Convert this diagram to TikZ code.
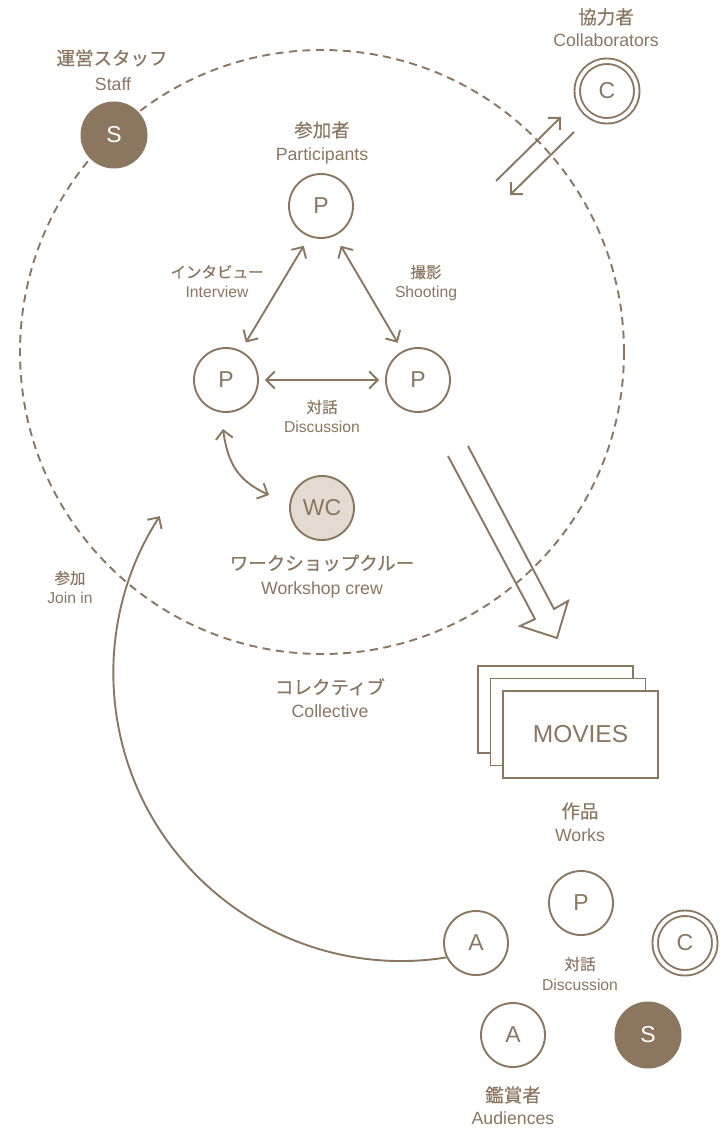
\documentclass[tikz,border=0pt]{standalone}
\usepackage{fontspec}
\setmainfont{Liberation Sans}
\newfontfamily\jp[FakeBold=0.5]{Noto Sans CJK JP}
\usetikzlibrary{arrows.meta,calc}
\definecolor{brn}{RGB}{139,118,96}
\definecolor{wcfill}{RGB}{227,219,210}
\begin{document}
\begin{tikzpicture}[x=1pt,y=-1pt,
  >={Straight Barb[length=8.5pt,width=17pt]},
  line/.style={draw=brn,line width=1.9pt},
  pc/.style={circle,draw=brn,line width=1.9pt,minimum size=64pt,inner sep=0pt,fill=white,text=brn,font=\fontsize{23}{23}\selectfont},
  sc/.style={circle,fill=brn,minimum size=67pt,inner sep=0pt,text=white,font=\fontsize{23}{23}\selectfont},
  cc/.style={circle,draw=brn,line width=1.9pt,double=white,double distance=3.6pt,minimum size=59.5pt,inner sep=0pt,text=brn,font=\fontsize{23}{23}\selectfont},
  jpL/.style={anchor=base,yshift=-7pt,text=brn,inner sep=0pt,font=\jp\fontsize{18.5}{18.5}\selectfont},
  enL/.style={anchor=base,yshift=-6.3pt,text=brn,inner sep=0pt,font=\fontsize{17.7}{17.7}\selectfont},
  jpS/.style={anchor=base,yshift=-5.9pt,text=brn,inner sep=0pt,font=\jp\fontsize{15.5}{15.5}\selectfont},
  enS/.style={anchor=base,yshift=-5.6pt,text=brn,inner sep=0pt,font=\fontsize{15.7}{15.7}\selectfont},
  movie/.style={rectangle,draw=brn,line width=1.9pt,fill=white,minimum width=155pt,minimum height=87pt,inner sep=0pt,text=brn,font=\fontsize{24.5}{24.5}\selectfont}
]
\useasboundingbox (0,0) rectangle (727,1129);

% collective dashed circle
\node[circle,draw=brn,line width=1.9pt,dash pattern=on 8pt off 5.5pt,minimum size=604pt,inner sep=0pt] (coll) at (322,352) {};

% staff
\node[sc] (S1) at (114,135) {S};
\node[jpL] (staffJP) at (112,58) {運営スタッフ};
\node[enL] (staffEN) at (113,84) {Staff};

% collaborators
\node[cc] (C1) at (607,91) {C};
\node[jpL] (colJP) at (606,17) {協力者};
\node[enL] (colEN) at (606,40) {Collaborators};
\coordinate (ca1) at (496,181);
\coordinate (ca2) at (561,117);
\coordinate (cb1) at (574,132);
\coordinate (cb2) at (510,195);
\draw[line,->] (ca1) -- (ca2);
\draw[line,->] (cb1) -- (cb2);

% participants
\node[pc] (Pt) at (321,206) {P};
\node[pc] (Pl) at (226,380) {P};
\node[pc] (Pr) at (418,380) {P};
\node[jpL] (parJP) at (322,130) {参加者};
\node[enL] (parEN) at (322,154) {Participants};

\draw[line,<->,shorten <=10.5pt,shorten >=9.5pt] (Pt.249) -- (Pl.63);
\draw[line,<->,shorten <=11.5pt,shorten >=9.5pt] (Pt.295) -- (Pr.118);
\draw[line,<->,shorten <=6pt,shorten >=6pt] (Pl) -- (Pr);

\node[jpS] (intJP) at (217,272) {インタビュー};
\node[enS] (intEN) at (217,292) {Interview};
\node[jpS] (shoJP) at (426,272) {撮影};
\node[enS] (shoEN) at (426,292) {Shooting};
\node[jpS] (disJP) at (322,407) {対話};
\node[enS] (disEN) at (322,427) {Discussion};

% workshop crew
\node[pc,fill=wcfill] (WC) at (322,508) {WC};
\node[jpL] (wcJP) at (322,563) {ワークショップクルー};
\node[enL] (wcEN) at (322,588) {Workshop crew};
\coordinate (w1) at ($(Pl)+(-3,49)$);
\coordinate (w2) at ($(WC)+(-53,-13)$);
\draw[line,<->] (w1) .. controls +(5,36) and +(-30,-14) .. (w2);

\node[jpL] (cjp) at (330,687) {コレクティブ};
\node[enL] (cen) at (330,711) {Collective};

% output arrow
\draw[line,line join=miter] (448,456) -- (535,619) -- (520,626) -- (557,638) -- (568,601) -- (554,609) -- (468,446);

% movies
\node[movie] (m1) at (555.5,709.5) {};
\node[movie] (m2) at (568,722) {};
\node[movie] (m3) at (580.5,734.5) {MOVIES};
\node[jpL] (wkJP) at (580,811) {作品};
\node[enL] (wkEN) at (580,835) {Works};

% audiences group
\node[pc] (Pb) at (581,903) {P};
\node[pc] (A1) at (476,943) {A};
\node[cc] (C2) at (685,943) {C};
\node[pc] (A2) at (513,1035) {A};
\node[sc] (S2) at (648,1035) {S};
\node[jpS] (d2JP) at (580,964) {対話};
\node[enS] (d2EN) at (580,985) {Discussion};
\node[jpL] (audJP) at (513,1095) {鑑賞者};
\node[enL] (audEN) at (513,1118) {Audiences};

% join in arc
\draw[line,->] (A1.206) arc[start angle=81,end angle=213,radius=288];
\node[jpS] (joJP) at (70,578) {参加};
\node[enS] (joEN) at (70,598) {Join in};
\end{tikzpicture}
\end{document}
